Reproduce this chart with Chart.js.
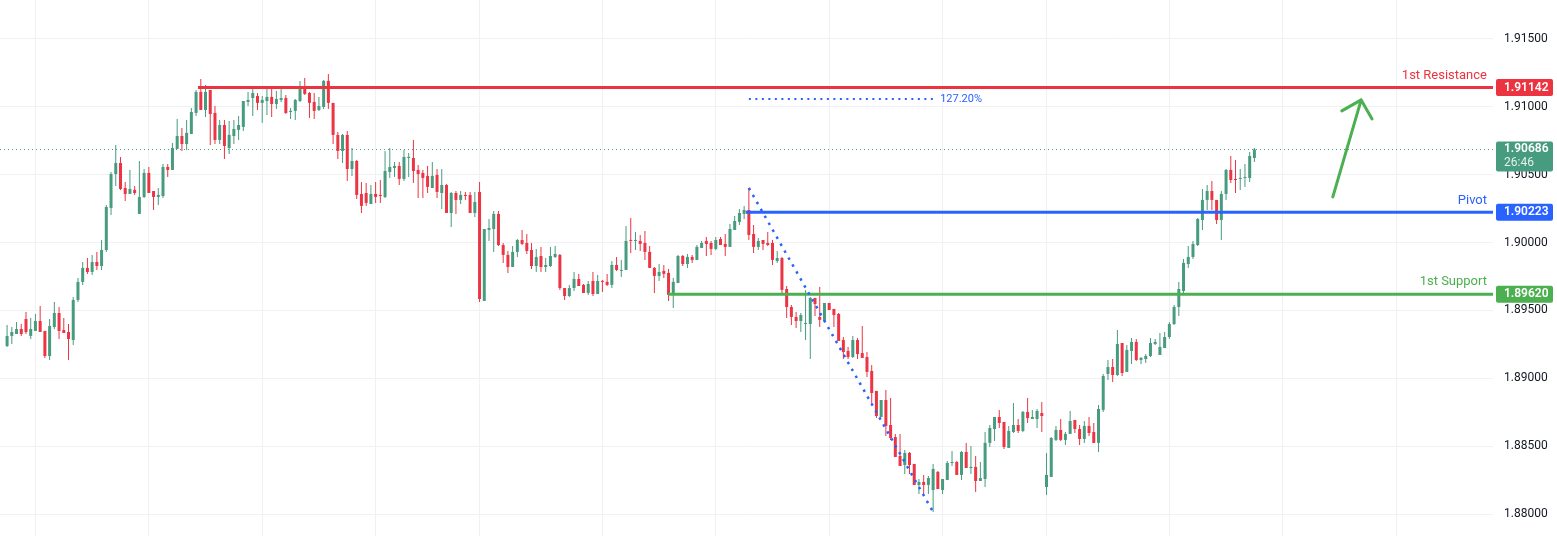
<!DOCTYPE html>
<html>
<head>
<meta charset="utf-8">
<script src="https://cdn.jsdelivr.net/npm/chart.js@4.4.1/dist/chart.umd.min.js"></script>
<style>
  html, body { margin: 0; padding: 0; background: #fff; }
  #wrap { width: 1557px; height: 536px; position: relative; }
</style>
</head>
<body>
<div id="wrap"><canvas id="chart"></canvas></div>
<script>
// Candles (one per bar, left to right)
const opens = [
  1.89238, 1.89312, 1.89326, 1.89363, 1.89437, 1.89312, 1.89349, 1.89422, 1.89349, 1.89164,
  1.89378, 1.89481, 1.89356, 1.89341, 1.89282, 1.89577, 1.89710, 1.89813, 1.89783, 1.89857,
  1.89827, 1.89945, 1.90255, 1.90505, 1.90586, 1.90402, 1.90358, 1.90388, 1.90211, 1.90336,
  1.90513, 1.90380, 1.90336, 1.90343, 1.90557, 1.90535, 1.90690, 1.90785, 1.90726, 1.90800,
  1.90955, 1.91110, 1.90977, 1.91124, 1.90955, 1.90756, 1.90866, 1.90697, 1.90785, 1.90830,
  1.90852, 1.91036, 1.91065, 1.91080, 1.91029, 1.91043, 1.91073, 1.91021, 1.91051, 1.91065,
  1.90962, 1.90970, 1.91043, 1.91146, 1.91102, 1.91036, 1.90977, 1.90999, 1.91191, 1.91029,
  1.90793, 1.90675, 1.90793, 1.90542, 1.90601, 1.90358, 1.90365, 1.90284, 1.90358, 1.90351,
  1.90336, 1.90520, 1.90550, 1.90564, 1.90469, 1.90623, 1.90623, 1.90535, 1.90513, 1.90491,
  1.90402, 1.90498, 1.90365, 1.90424, 1.90218, 1.90365, 1.90314, 1.90351, 1.90351, 1.90218,
  1.90373, 1.89570, 1.90093, 1.90100, 1.90211, 1.89982, 1.89909, 1.89820, 1.89931, 1.90019,
  1.89997, 1.89945, 1.89827, 1.89901, 1.89820, 1.89827, 1.89894, 1.89909, 1.89665, 1.89606,
  1.89665, 1.89732, 1.89688, 1.89629, 1.89717, 1.89621, 1.89717, 1.89710, 1.89688, 1.89835,
  1.89791, 1.89798, 1.90019, 1.90012, 1.90012, 1.89997, 1.89931, 1.89813, 1.89754, 1.89791,
  1.89776, 1.89614, 1.89702, 1.89901, 1.89842, 1.89894, 1.89872, 1.89960, 1.90012, 1.89997,
  1.89953, 1.90026, 1.89990, 1.89968, 1.90093, 1.90152, 1.90211, 1.90240, 1.90063, 1.89968,
  1.90019, 1.89997, 1.89997, 1.89864, 1.89886, 1.89658, 1.89525, 1.89452, 1.89422, 1.89400,
  1.89400, 1.89592, 1.89452, 1.89422, 1.89555, 1.89511, 1.89474, 1.89282, 1.89201, 1.89157,
  1.89282, 1.89186, 1.89157, 1.89054, 1.88907, 1.88715, 1.88840, 1.88656, 1.88567, 1.88428,
  1.88361, 1.88450, 1.88369, 1.88214, 1.88236, 1.88214, 1.88177, 1.88310, 1.88177, 1.88251,
  1.88376, 1.88383, 1.88288, 1.88457, 1.88339, 1.88347, 1.88243, 1.88258, 1.88524, 1.88626,
  1.88715, 1.88678, 1.88487, 1.88604, 1.88656, 1.88612, 1.88752, 1.88700, 1.88700, 1.88744,
  1.88199, 1.88273, 1.88546, 1.88619, 1.88546, 1.88590, 1.88693, 1.88626, 1.88553, 1.88649,
  1.88604, 1.88524, 1.88767, 1.89032, 1.89083, 1.89024, 1.89260, 1.89047, 1.89201, 1.89268,
  1.89135, 1.89142, 1.89164, 1.89253, 1.89172, 1.89223, 1.89304, 1.89400, 1.89525, 1.89643,
  1.89842, 1.89894, 1.89982, 1.90166, 1.90314, 1.90380, 1.90314, 1.90166, 1.90358, 1.90535,
  1.90469, 1.90469, 1.90476, 1.90476, 1.90623
];
const highs = [
  1.89393, 1.89378, 1.89415, 1.89400, 1.89489, 1.89444, 1.89474, 1.89533, 1.89349, 1.89437,
  1.89562, 1.89525, 1.89444, 1.89400, 1.89599, 1.89739, 1.89857, 1.89886, 1.89909, 1.89931,
  1.90019, 1.90277, 1.90520, 1.90719, 1.90631, 1.90446, 1.90535, 1.90417, 1.90601, 1.90542,
  1.90557, 1.90380, 1.90402, 1.90579, 1.90579, 1.90734, 1.90911, 1.90844, 1.90903, 1.90992,
  1.91124, 1.91205, 1.91161, 1.91124, 1.91006, 1.90903, 1.90903, 1.90896, 1.90903, 1.90933,
  1.91043, 1.91110, 1.91139, 1.91102, 1.91080, 1.91146, 1.91132, 1.91117, 1.91132, 1.91087,
  1.90992, 1.91058, 1.91191, 1.91213, 1.91110, 1.91102, 1.91073, 1.91198, 1.91242, 1.91029,
  1.90815, 1.90800, 1.90822, 1.90697, 1.90609, 1.90446, 1.90439, 1.90424, 1.90446, 1.90461,
  1.90675, 1.90697, 1.90594, 1.90594, 1.90682, 1.90660, 1.90756, 1.90572, 1.90535, 1.90564,
  1.90594, 1.90542, 1.90542, 1.90432, 1.90373, 1.90380, 1.90380, 1.90373, 1.90373, 1.90373,
  1.90446, 1.90100, 1.90174, 1.90233, 1.90233, 1.89997, 1.89938, 1.89975, 1.90026, 1.90093,
  1.90063, 1.89997, 1.89953, 1.89968, 1.89886, 1.89968, 1.89975, 1.89916, 1.89665, 1.89688,
  1.89783, 1.89769, 1.89695, 1.89717, 1.89783, 1.89761, 1.89724, 1.89769, 1.89864, 1.89894,
  1.89872, 1.90122, 1.90181, 1.90078, 1.90056, 1.90085, 1.89975, 1.89820, 1.89842, 1.89835,
  1.89805, 1.89739, 1.89909, 1.89909, 1.89916, 1.89909, 1.89982, 1.90012, 1.90041, 1.90012,
  1.90041, 1.90041, 1.90063, 1.90137, 1.90196, 1.90247, 1.90270, 1.90402, 1.90130, 1.90034,
  1.90019, 1.90078, 1.90019, 1.89938, 1.89894, 1.89680, 1.89540, 1.89489, 1.89481, 1.89651,
  1.89599, 1.89592, 1.89673, 1.89555, 1.89555, 1.89511, 1.89481, 1.89304, 1.89231, 1.89312,
  1.89297, 1.89385, 1.89194, 1.89098, 1.88907, 1.88840, 1.88914, 1.88855, 1.88590, 1.88590,
  1.88472, 1.88457, 1.88369, 1.88258, 1.88288, 1.88280, 1.88369, 1.88317, 1.88258, 1.88391,
  1.88465, 1.88391, 1.88465, 1.88524, 1.88501, 1.88428, 1.88383, 1.88604, 1.88656, 1.88715,
  1.88767, 1.88678, 1.88649, 1.88818, 1.88700, 1.88759, 1.88855, 1.88767, 1.88774, 1.88825,
  1.88450, 1.88567, 1.88649, 1.88700, 1.88604, 1.88759, 1.88693, 1.88656, 1.88685, 1.88715,
  1.88671, 1.88803, 1.89032, 1.89135, 1.89142, 1.89356, 1.89260, 1.89245, 1.89297, 1.89290,
  1.89157, 1.89179, 1.89297, 1.89290, 1.89334, 1.89341, 1.89415, 1.89540, 1.89710, 1.89879,
  1.89975, 1.90012, 1.90181, 1.90395, 1.90424, 1.90454, 1.90314, 1.90380, 1.90542, 1.90638,
  1.90609, 1.90542, 1.90579, 1.90667, 1.90697
];
const lows = [
  1.89231, 1.89253, 1.89326, 1.89312, 1.89326, 1.89290, 1.89349, 1.89341, 1.89150, 1.89135,
  1.89363, 1.89290, 1.89334, 1.89135, 1.89245, 1.89562, 1.89688, 1.89769, 1.89761, 1.89798,
  1.89798, 1.89931, 1.90203, 1.90417, 1.90388, 1.90306, 1.90358, 1.90351, 1.90211, 1.90329,
  1.90365, 1.90240, 1.90277, 1.90329, 1.90483, 1.90535, 1.90690, 1.90675, 1.90682, 1.90800,
  1.90933, 1.90977, 1.90925, 1.90719, 1.90726, 1.90726, 1.90616, 1.90653, 1.90726, 1.90756,
  1.90822, 1.91006, 1.90933, 1.90977, 1.90881, 1.90940, 1.90925, 1.90984, 1.91036, 1.90947,
  1.90911, 1.90903, 1.91036, 1.91087, 1.90918, 1.90911, 1.90970, 1.90984, 1.90984, 1.90726,
  1.90616, 1.90586, 1.90454, 1.90491, 1.90321, 1.90218, 1.90270, 1.90284, 1.90292, 1.90292,
  1.90329, 1.90476, 1.90483, 1.90424, 1.90454, 1.90483, 1.90439, 1.90329, 1.90329, 1.90365,
  1.90402, 1.90329, 1.90247, 1.90218, 1.90115, 1.90211, 1.90284, 1.90314, 1.90218, 1.90189,
  1.89562, 1.89570, 1.90012, 1.89931, 1.89975, 1.89850, 1.89776, 1.89820, 1.89894, 1.89982,
  1.89916, 1.89805, 1.89783, 1.89783, 1.89783, 1.89820, 1.89886, 1.89651, 1.89577, 1.89599,
  1.89643, 1.89680, 1.89629, 1.89614, 1.89606, 1.89621, 1.89636, 1.89680, 1.89665, 1.89791,
  1.89746, 1.89798, 1.89923, 1.89945, 1.89938, 1.89872, 1.89813, 1.89629, 1.89717, 1.89739,
  1.89570, 1.89518, 1.89702, 1.89827, 1.89813, 1.89850, 1.89872, 1.89960, 1.89901, 1.89909,
  1.89945, 1.89982, 1.89901, 1.89968, 1.90093, 1.90130, 1.90174, 1.90019, 1.89923, 1.89945,
  1.89945, 1.89975, 1.89835, 1.89850, 1.89614, 1.89444, 1.89393, 1.89371, 1.89341, 1.89282,
  1.89142, 1.89459, 1.89378, 1.89415, 1.89503, 1.89378, 1.89275, 1.89142, 1.89142, 1.89150,
  1.89142, 1.89150, 1.89010, 1.88811, 1.88707, 1.88715, 1.88575, 1.88546, 1.88420, 1.88354,
  1.88295, 1.88295, 1.88214, 1.88148, 1.88148, 1.88148, 1.88015, 1.88184, 1.88148, 1.88251,
  1.88354, 1.88288, 1.88251, 1.88339, 1.88295, 1.88162, 1.88243, 1.88199, 1.88494, 1.88538,
  1.88634, 1.88479, 1.88487, 1.88597, 1.88597, 1.88604, 1.88671, 1.88700, 1.88634, 1.88604,
  1.88140, 1.88273, 1.88538, 1.88538, 1.88509, 1.88590, 1.88597, 1.88509, 1.88524, 1.88575,
  1.88524, 1.88457, 1.88752, 1.88988, 1.88973, 1.89017, 1.89017, 1.89047, 1.89105, 1.89128,
  1.89105, 1.89113, 1.89157, 1.89245, 1.89172, 1.89223, 1.89290, 1.89393, 1.89459, 1.89614,
  1.89813, 1.89879, 1.89975, 1.90093, 1.90240, 1.90240, 1.90137, 1.90019, 1.90314, 1.90439,
  1.90365, 1.90388, 1.90410, 1.90446, 1.90594
];
const closes = [
  1.89312, 1.89341, 1.89363, 1.89326, 1.89341, 1.89363, 1.89422, 1.89341, 1.89164, 1.89385,
  1.89481, 1.89349, 1.89334, 1.89290, 1.89577, 1.89710, 1.89813, 1.89783, 1.89857, 1.89827,
  1.89945, 1.90262, 1.90505, 1.90586, 1.90395, 1.90358, 1.90395, 1.90365, 1.90336, 1.90513,
  1.90365, 1.90336, 1.90351, 1.90557, 1.90535, 1.90697, 1.90785, 1.90726, 1.90808, 1.90962,
  1.91110, 1.90977, 1.91110, 1.90947, 1.90756, 1.90866, 1.90712, 1.90793, 1.90837, 1.90866,
  1.91043, 1.91051, 1.91102, 1.91029, 1.91051, 1.91073, 1.91021, 1.91058, 1.91065, 1.90955,
  1.90970, 1.91051, 1.91146, 1.91095, 1.91029, 1.90970, 1.91006, 1.91191, 1.91029, 1.90793,
  1.90675, 1.90793, 1.90542, 1.90601, 1.90351, 1.90270, 1.90292, 1.90358, 1.90336, 1.90343,
  1.90527, 1.90557, 1.90564, 1.90469, 1.90631, 1.90631, 1.90527, 1.90505, 1.90476, 1.90410,
  1.90491, 1.90373, 1.90424, 1.90218, 1.90365, 1.90314, 1.90351, 1.90343, 1.90218, 1.90299,
  1.89584, 1.90100, 1.90107, 1.90211, 1.89982, 1.89909, 1.89820, 1.89931, 1.90019, 1.89990,
  1.89938, 1.89827, 1.89894, 1.89820, 1.89835, 1.89901, 1.89916, 1.89665, 1.89606, 1.89665,
  1.89732, 1.89680, 1.89629, 1.89695, 1.89621, 1.89717, 1.89710, 1.89688, 1.89835, 1.89798,
  1.89798, 1.90012, 1.90012, 1.90019, 1.89990, 1.89931, 1.89813, 1.89754, 1.89783, 1.89769,
  1.89614, 1.89710, 1.89901, 1.89842, 1.89894, 1.89872, 1.89968, 1.89997, 1.89990, 1.89953,
  1.90019, 1.89982, 1.89968, 1.90100, 1.90159, 1.90218, 1.90240, 1.90056, 1.89968, 1.90012,
  1.89990, 1.89982, 1.89872, 1.89886, 1.89651, 1.89525, 1.89452, 1.89422, 1.89466, 1.89407,
  1.89592, 1.89547, 1.89430, 1.89555, 1.89503, 1.89466, 1.89275, 1.89194, 1.89157, 1.89282,
  1.89179, 1.89150, 1.89047, 1.88892, 1.88722, 1.88840, 1.88649, 1.88560, 1.88420, 1.88354,
  1.88450, 1.88361, 1.88214, 1.88236, 1.88214, 1.88265, 1.88332, 1.88184, 1.88258, 1.88376,
  1.88383, 1.88288, 1.88457, 1.88339, 1.88347, 1.88243, 1.88265, 1.88524, 1.88634, 1.88715,
  1.88671, 1.88494, 1.88612, 1.88656, 1.88612, 1.88752, 1.88707, 1.88715, 1.88759, 1.88722,
  1.88288, 1.88560, 1.88619, 1.88546, 1.88590, 1.88685, 1.88626, 1.88553, 1.88649, 1.88597,
  1.88524, 1.88774, 1.89017, 1.89083, 1.89024, 1.89253, 1.89039, 1.89209, 1.89268, 1.89135,
  1.89150, 1.89164, 1.89260, 1.89268, 1.89231, 1.89304, 1.89400, 1.89525, 1.89658, 1.89850,
  1.89894, 1.89990, 1.90174, 1.90314, 1.90380, 1.90314, 1.90166, 1.90358, 1.90535, 1.90461,
  1.90461, 1.90476, 1.90483, 1.90638, 1.90686
];

// Price axis
const yTicks = [1.88, 1.885, 1.89, 1.895, 1.90, 1.905, 1.91, 1.915];
const yMin = 1.87838;
const yMax = 1.91787;

// Bars where a new session starts (vertical grid lines)
const sessionStarts = [6, 30, 54, 78, 100, 126, 150, 174, 198, 220, 246, 270, 294];

// Horizontal levels
const levelNames = ['1st Resistance', 'Pivot', '1st Support'];
const levelPrices = [1.91142, 1.90223, 1.89620];
const levelFrom = [40.4, 156.4, 139.9];

// Last price tag
const lastPrice = 1.90686;
const countdown = '26:46';

// Fibonacci projection (bar index, price)
const fibFrom = [157, 1.90402];
const fibTo = [196, 1.88015];
const fibLevel = 1.91058;
const fibText = '127.20%';

// Drawn arrow (bar index, price)
const arrowTail = [280.6, 1.90336];
const arrowHead = [286.6, 1.91051];
const arrowLeft = [282.5, 1.90970];
const arrowRight = [288.9, 1.90911];

const slotCount = 316;
const firstSlot = 1;

const UP = '#479b7e';
const DOWN = '#eb3444';
const RED = '#ec3340';
const BLUE = '#2962ff';
const GREEN = '#4caf50';
const levelColors = [RED, BLUE, GREEN];
const FONT = 'Roboto, "Liberation Sans", sans-serif';

const labels = Array.from({ length: slotCount }, (_, k) => String(k));
const bar = k => k - firstSlot;
const inRange = i => i >= 0 && i < opens.length;
const wickData = labels.map((_, k) => inRange(bar(k)) ? [lows[bar(k)], highs[bar(k)]] : null);
const bodyData = labels.map((_, k) => inRange(bar(k)) ? [opens[bar(k)], closes[bar(k)]] : null);
const candleColor = ctx => {
    const i = bar(ctx.dataIndex);
    return inRange(i) && closes[i] >= opens[i] ? UP : DOWN;
};
const gridSlots = sessionStarts.map(i => i + firstSlot);

const overlay = {
    id: 'overlay',
    beforeDatasetsDraw(chart) {
        const { ctx, chartArea: a, scales: { y } } = chart;
        const py = Math.round(y.getPixelForValue(lastPrice)) + 0.5;
        ctx.save();
        ctx.strokeStyle = UP;
        ctx.lineWidth = 1;
        ctx.setLineDash([1, 3]);
        ctx.beginPath();
        ctx.moveTo(a.left, py);
        ctx.lineTo(a.right, py);
        ctx.stroke();
        ctx.restore();
    },
    afterDatasetsDraw(chart) {
        const { ctx, chartArea: a, scales: { x, y } } = chart;
        const px = i => x.getPixelForValue(i + firstSlot);
        ctx.save();

        // support / resistance lines
        levelPrices.forEach((p, n) => {
            const py = y.getPixelForValue(p);
            ctx.strokeStyle = levelColors[n];
            ctx.lineWidth = 3;
            ctx.beginPath();
            ctx.moveTo(px(levelFrom[n]), py);
            ctx.lineTo(a.right, py);
            ctx.stroke();
            ctx.fillStyle = levelColors[n];
            ctx.font = '13px ' + FONT;
            ctx.textAlign = 'right';
            ctx.textBaseline = 'middle';
            ctx.fillText(levelNames[n], a.right - 6, py - 12);
        });

        // fibonacci projection
        ctx.strokeStyle = BLUE;
        ctx.lineWidth = 2.5;
        ctx.setLineDash([2.5, 5.5]);
        ctx.beginPath();
        ctx.moveTo(px(fibFrom[0]), y.getPixelForValue(fibFrom[1]));
        ctx.lineTo(px(fibTo[0]), y.getPixelForValue(fibTo[1]));
        ctx.stroke();
        const fy = Math.round(y.getPixelForValue(fibLevel));
        ctx.lineWidth = 2;
        ctx.setLineDash([2, 4.5]);
        ctx.beginPath();
        ctx.moveTo(px(fibFrom[0]), fy);
        ctx.lineTo(px(fibTo[0]), fy);
        ctx.stroke();
        ctx.setLineDash([]);
        ctx.fillStyle = BLUE;
        ctx.font = '11px ' + FONT;
        ctx.textAlign = 'left';
        ctx.textBaseline = 'middle';
        ctx.fillText(fibText, px(fibTo[0]) + 7, fy);

        // arrow
        ctx.strokeStyle = GREEN;
        ctx.lineWidth = 3;
        ctx.lineCap = 'round';
        ctx.lineJoin = 'round';
        const pt = q => [px(q[0]), y.getPixelForValue(q[1])];
        const [tx, ty] = pt(arrowTail), [hx, hy] = pt(arrowHead);
        const [lx, ly] = pt(arrowLeft), [rx, ry] = pt(arrowRight);
        ctx.beginPath();
        ctx.moveTo(tx, ty);
        ctx.lineTo(hx, hy);
        ctx.moveTo(lx, ly);
        ctx.lineTo(hx, hy);
        ctx.lineTo(rx, ry);
        ctx.stroke();
        ctx.restore();
    },
    afterDraw(chart) {
        const { ctx, chartArea: a, scales: { y } } = chart;
        const left = a.right + 3;
        const w = 57;
        ctx.save();
        ctx.textAlign = 'left';
        ctx.textBaseline = 'middle';
        levelPrices.forEach((p, n) => {
            const py = y.getPixelForValue(p);
            ctx.fillStyle = levelColors[n];
            ctx.beginPath();
            ctx.roundRect(left, py - 8.5, w, 17, 2);
            ctx.fill();
            ctx.fillStyle = '#fff';
            ctx.font = '600 12px ' + FONT;
            ctx.fillText(p.toFixed(5), a.right + 11, py);
        });
        const ly = y.getPixelForValue(lastPrice);
        ctx.fillStyle = UP;
        ctx.beginPath();
        ctx.roundRect(left, ly - 8, w, 30, 2);
        ctx.fill();
        ctx.fillStyle = '#fff';
        ctx.font = '600 12px ' + FONT;
        ctx.fillText(lastPrice.toFixed(5), a.right + 11, ly);
        ctx.fillStyle = 'rgba(255,255,255,0.85)';
        ctx.font = '12px ' + FONT;
        ctx.fillText(countdown, a.right + 11, ly + 13.5);
        ctx.restore();
    }
};

new Chart(document.getElementById('chart'), {
    type: 'bar',
    data: {
        labels: labels,
        datasets: [
            {
                label: 'body',
                data: bodyData,
                backgroundColor: candleColor,
                barThickness: 3,
                minBarLength: 1,
                grouped: false,
                borderWidth: 0,
                inflateAmount: 0,
                order: 0
            },
            {
                label: 'wick',
                data: wickData,
                backgroundColor: candleColor,
                barThickness: 1,
                grouped: false,
                borderWidth: 0,
                inflateAmount: 0,
                order: 1
            }
        ]
    },
    options: {
        responsive: true,
        maintainAspectRatio: false,
        animation: false,
        events: [],
        layout: { padding: 0 },
        plugins: {
            legend: { display: false },
            tooltip: { enabled: false }
        },
        scales: {
            x: {
                type: 'category',
                offset: true,
                ticks: { display: false, autoSkip: false },
                grid: {
                    offset: false,
                    drawTicks: false,
                    color: ctx => gridSlots.includes(ctx.index) ? '#f0f1f4' : 'rgba(0,0,0,0)'
                },
                border: { display: false },
                afterFit: scale => {
                    scale.height = 0;
                    scale.paddingLeft = 0;
                    scale.paddingRight = 0;
                }
            },
            y: {
                position: 'right',
                min: yMin,
                max: yMax,
                afterBuildTicks: scale => {
                    scale.ticks = yTicks.map(v => ({ value: v }));
                },
                afterFit: scale => {
                    scale.width = 64;
                    scale.paddingTop = 0;
                    scale.paddingBottom = 0;
                },
                ticks: {
                    padding: 11,
                    color: '#131722',
                    font: { family: FONT, size: 12 },
                    callback: v => Number(v).toFixed(5)
                },
                grid: { color: '#f0f1f4', drawTicks: false },
                border: { display: false }
            }
        }
    },
    plugins: [overlay]
});
</script>
</body>
</html>
